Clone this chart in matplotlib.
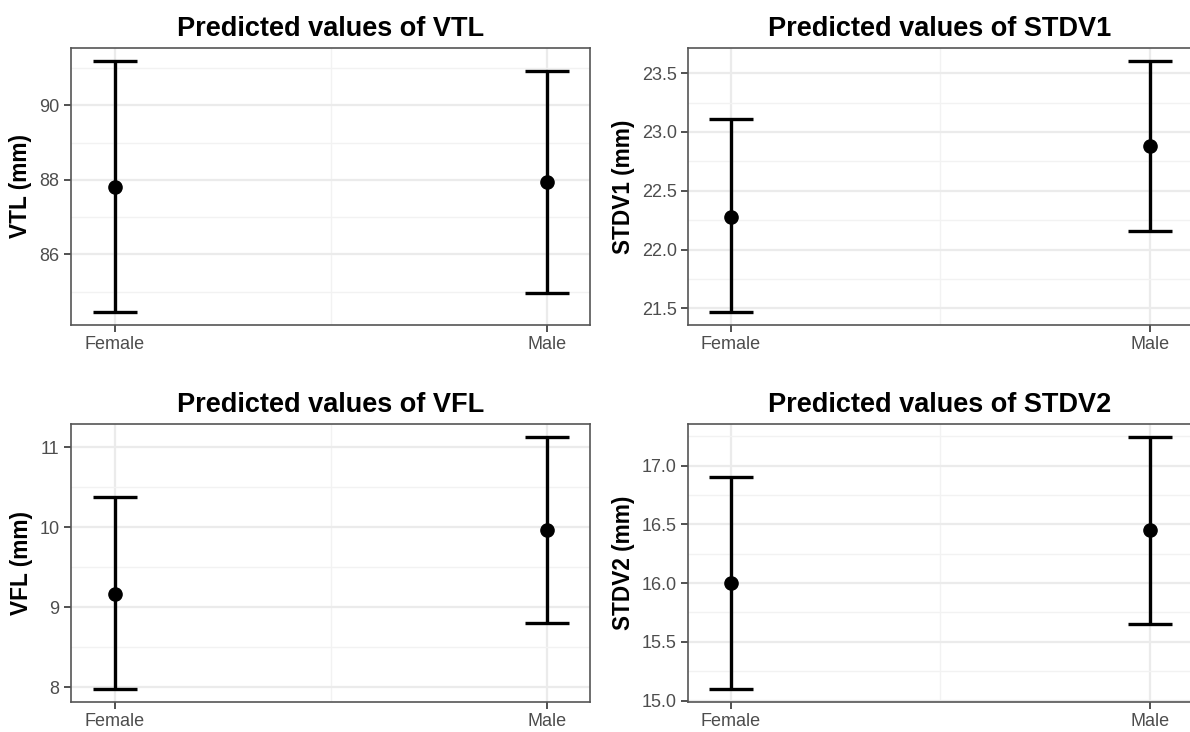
import matplotlib
matplotlib.use("Agg")
import matplotlib.pyplot as plt
from matplotlib.ticker import MultipleLocator, FixedLocator

plt.rcParams['font.family'] = ['Liberation Sans', 'DejaVu Sans']

categories = ["Female", "Male"]

vtl_pred = [87.82, 87.94]
vtl_low = [84.44, 84.96]
vtl_high = [91.20, 90.92]

stdv1_pred = [22.28, 22.88]
stdv1_low = [21.466, 22.158]
stdv1_high = [23.11, 23.607]

vfl_pred = [9.17, 9.97]
vfl_low = [7.975, 8.81]
vfl_high = [10.38, 11.133]

stdv2_pred = [16.00, 16.452]
stdv2_low = [15.096, 15.653]
stdv2_high = [16.90, 17.246]

panels = [
    ("Predicted values of VTL", "VTL (mm)", vtl_pred, vtl_low, vtl_high, 2.0, "{:.0f}"),
    ("Predicted values of STDV1", "STDV1 (mm)", stdv1_pred, stdv1_low, stdv1_high, 0.5, "{:.1f}"),
    ("Predicted values of VFL", "VFL (mm)", vfl_pred, vfl_low, vfl_high, 1.0, "{:.0f}"),
    ("Predicted values of STDV2", "STDV2 (mm)", stdv2_pred, stdv2_low, stdv2_high, 0.5, "{:.1f}"),
]

W, H = 1190, 732
fig = plt.figure(figsize=(W / 100, H / 100), dpi=100)
fig.patch.set_facecolor("white")

# pixel boxes: left, right, top, bottom
boxes = [
    (70.7, 590, 48, 325),
    (688, 1191.5, 48, 325),
    (70.7, 590, 424, 702),
    (688, 1191.5, 424, 702),
]

for (title, ylabel, pred, low, high, step, fmt), (l, r, t, b) in zip(panels, boxes):
    ax = fig.add_axes([l / W, 1 - b / H, (r - l) / W, (b - t) / H])
    x = [1, 2]
    yerr = [[p - lo for p, lo in zip(pred, low)], [hi - p for p, hi in zip(pred, high)]]
    ax.errorbar(x, pred, yerr=yerr, fmt='o', color='black', ecolor='black',
                elinewidth=2.4, capsize=15.5, capthick=2.4, markersize=9.5, zorder=3)
    ax.set_xlim(0.898, 2.1)
    ax.margins(y=0.05)
    ax.yaxis.set_major_locator(MultipleLocator(step))
    ax.yaxis.set_minor_locator(MultipleLocator(step / 2))
    ax.xaxis.set_major_locator(FixedLocator([1, 2]))
    ax.xaxis.set_minor_locator(FixedLocator([1.5]))
    ax.set_xticklabels(categories)
    ax.yaxis.set_major_formatter(matplotlib.ticker.FuncFormatter(lambda v, p, f=fmt: f.format(v)))
    ax.grid(which='major', color='#EBEBEB', linewidth=1.6, zorder=0)
    ax.grid(which='minor', color='#F2F2F2', linewidth=1.0, zorder=0)
    ax.set_axisbelow(True)
    ax.tick_params(axis='both', which='major', length=5, width=1.2, color='#333333',
                   labelcolor='#4D4D4D', labelsize=13, pad=3)
    ax.tick_params(axis='both', which='minor', length=0)
    for s in ax.spines.values():
        s.set_color('#555555')
        s.set_linewidth(1.2)
    ax.set_ylabel(ylabel, fontsize=16.3, fontweight='bold', labelpad=5)
    ax.set_title(title, fontsize=19.5, fontweight='bold', pad=9)

fig.savefig("out.png", dpi=100, facecolor="white")
